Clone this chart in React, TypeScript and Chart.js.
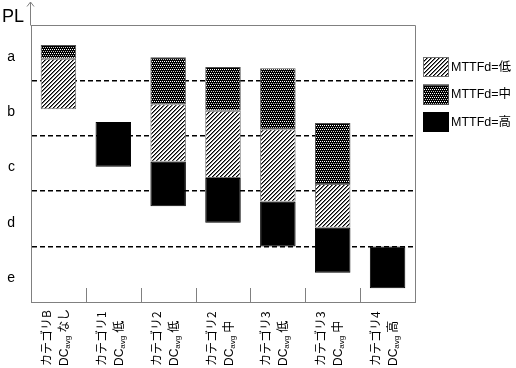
import React, { useEffect, useRef } from 'react';
import { Chart, registerables } from 'chart.js';

Chart.register(...registerables);

// ---- data ----
const categoryNames = ['カテゴリB', 'カテゴリ1', 'カテゴリ2', 'カテゴリ2', 'カテゴリ3', 'カテゴリ3', 'カテゴリ4'];
const dcLevels = ['なし', '低', '低', '中', '低', '中', '高'];
const plLevels = ['e', 'd', 'c', 'b', 'a'];
const seriesLabels = ['MTTFd=低', 'MTTFd=中', 'MTTFd=高'];
const mttfdLow = [[3.48, 4.39], null, [2.53, 3.57], [2.24, 3.45], [1.81, 3.12], [1.34, 2.13], null];
const mttfdMid = [[4.39, 4.64], null, [3.57, 4.42], [3.45, 4.24], [3.12, 4.22], [2.13, 3.23], null];
const mttfdHigh = [null, [2.44, 3.25], [1.73, 2.53], [1.43, 2.24], [1.0, 1.81], [0.53, 1.34], [0.25, 1.0]];

const FRAME = '#808080';
const FONT_FAMILY = '"Liberation Sans", Arial, "Noto Sans CJK JP", sans-serif';
const CJK_FAMILY = '"Noto Sans CJK JP", "Liberation Sans", sans-serif';

function makeHatch(): CanvasPattern {
  const c = document.createElement('canvas');
  c.width = 4; c.height = 4;
  const g = c.getContext('2d')!;
  const img = g.createImageData(4, 4);
  for (let y = 0; y < 4; y++) {
    for (let x = 0; x < 4; x++) {
      const s = (x + y) % 4;
      const v = s === 0 ? 0 : s === 1 ? 120 : 255;
      const i = (y * 4 + x) * 4;
      img.data[i] = v; img.data[i + 1] = v; img.data[i + 2] = v; img.data[i + 3] = 255;
    }
  }
  g.putImageData(img, 0, 0);
  return g.createPattern(c, 'repeat')!;
}

function makeDots(): CanvasPattern {
  const c = document.createElement('canvas');
  c.width = 4; c.height = 4;
  const g = c.getContext('2d')!;
  const img = g.createImageData(4, 4);
  for (let y = 0; y < 4; y++) {
    for (let x = 0; x < 4; x++) {
      let v = 0;
      if (y % 4 === 1 && x % 2 === 0) v = 255;
      if (y % 4 === 3 && x % 2 === 1) v = 200;
      const i = (y * 4 + x) * 4;
      img.data[i] = v; img.data[i + 1] = v; img.data[i + 2] = v; img.data[i + 3] = 255;
    }
  }
  g.putImageData(img, 0, 0);
  return g.createPattern(c, 'repeat')!;
}

const decorPlugin = {
  id: 'decor',
  afterDatasetsDraw(chart: any) {
    const { ctx, chartArea, scales } = chart;
    const { left, right, top, bottom } = chartArea;
    const xs = scales.x;
    ctx.save();
    // frame top & right
    ctx.strokeStyle = FRAME;
    ctx.lineWidth = 1;
    ctx.beginPath();
    ctx.moveTo(Math.round(left) - 0.5, Math.round(top) + 0.5);
    ctx.lineTo(Math.round(right) + 0.5, Math.round(top) + 0.5);
    ctx.lineTo(Math.round(right) + 0.5, Math.round(bottom) + 0.5);
    ctx.stroke();
    // axis arrow
    const ax = Math.round(left) - 0.5;
    ctx.beginPath();
    ctx.moveTo(ax, top);
    ctx.lineTo(ax, 2);
    ctx.moveTo(ax - 3.5, 6.5);
    ctx.lineTo(ax, 2);
    ctx.lineTo(ax + 3.5, 6.5);
    ctx.stroke();
    // category separators (inside, at bottom)
    ctx.beginPath();
    for (let i = 1; i < categoryNames.length; i++) {
      const bx = Math.round((xs.getPixelForValue(i - 1) + xs.getPixelForValue(i)) / 2) + 0.5;
      ctx.moveTo(bx, bottom - 14);
      ctx.lineTo(bx, bottom);
    }
    ctx.stroke();
    // PL label
    ctx.fillStyle = '#000';
    ctx.font = `18px ${FONT_FAMILY}`;
    ctx.textAlign = 'left';
    ctx.textBaseline = 'alphabetic';
    ctx.fillText('PL', 2, 22);
    // category labels (rotated)
    const startY = bottom + 64;
    for (let i = 0; i < categoryNames.length; i++) {
      const cx = xs.getPixelForValue(i);
      ctx.save();
      ctx.translate(cx - 7.5, startY);
      ctx.rotate(-Math.PI / 2);
      ctx.font = `12px ${CJK_FAMILY}`;
      ctx.fillText(categoryNames[i], 0, 0);
      ctx.restore();
      ctx.save();
      ctx.translate(cx + 9.5, startY);
      ctx.rotate(-Math.PI / 2);
      ctx.font = `12px ${FONT_FAMILY}`;
      let px = 0;
      ctx.fillText('DC', px, 0);
      px += ctx.measureText('DC').width;
      ctx.font = `8px ${FONT_FAMILY}`;
      ctx.fillText('avg', px, 2);
      px += ctx.measureText('avg').width + 3;
      ctx.font = `12px ${CJK_FAMILY}`;
      ctx.fillText(dcLevels[i], px, 0);
      ctx.restore();
    }
    // legend
    const datasets = chart.data.datasets;
    const boxX = right + 8;
    ctx.font = `12.5px ${FONT_FAMILY}`;
    ctx.textBaseline = 'middle';
    for (let i = 0; i < datasets.length; i++) {
      const by = top + 32 + i * 27.5;
      ctx.fillStyle = datasets[i].backgroundColor;
      ctx.fillRect(boxX, by, 26, 20);
      ctx.strokeStyle = datasets[i].borderColor;
      ctx.lineWidth = 1;
      ctx.strokeRect(Math.round(boxX) + 0.5, Math.round(by) + 0.5, 25, 19);
      ctx.fillStyle = '#000';
      ctx.fillText(datasets[i].label, boxX + 28, by + 10.5);
    }
    ctx.restore();
  },
};

export default function App() {
  const ref = useRef<HTMLCanvasElement>(null);
  useEffect(() => {
    const canvas = ref.current!;
    const hatch = makeHatch();
    const dots = makeDots();
    const common = {
      grouped: false,
      barPercentage: 0.647,
      categoryPercentage: 1,
      borderWidth: 1,
      borderSkipped: false,
    };
    const chart = new Chart(canvas, {
      type: 'bar',
      data: {
        labels: categoryNames,
        datasets: [
          { ...common, label: seriesLabels[0], data: mttfdLow as any, backgroundColor: hatch as any, borderColor: '#707070' },
          { ...common, label: seriesLabels[1], data: mttfdMid as any, backgroundColor: dots as any, borderColor: '#505050' },
          { ...common, label: seriesLabels[2], data: mttfdHigh as any, backgroundColor: '#000', borderColor: '#000' },
        ],
      },
      options: {
        responsive: false,
        animation: false,
        events: [],
        layout: { padding: { top: 25, right: 101, left: 0, bottom: 0 } },
        plugins: { legend: { display: false }, tooltip: { enabled: false } },
        scales: {
          x: {
            grid: { display: false },
            ticks: { display: false },
            border: { color: FRAME, width: 1 },
            afterFit: (s: any) => { s.height = 66; },
          },
          y: {
            min: 0,
            max: 5,
            afterBuildTicks: (s: any) => {
              const t = [];
              for (let i = 0; i <= 10; i++) t.push({ value: i * 0.5 });
              s.ticks = t;
            },
            afterFit: (s: any) => { s.width = 31; },
            ticks: {
              padding: 16,
              labelOffset: 4,
              color: '#000',
              font: { size: 14, family: FONT_FAMILY },
              callback: (v: any) => {
                const n = Number(v);
                if (Math.abs(n % 1 - 0.5) < 1e-6) return plLevels[Math.floor(n)];
                return '';
              },
            },
            grid: {
              drawTicks: false,
              lineWidth: 1.5,
              color: (c: any) => {
                const v = c.tick ? c.tick.value : 0;
                return Number.isInteger(v) && v > 0 && v < 5 ? '#000' : 'rgba(0,0,0,0)';
              },
            },
            border: { color: FRAME, width: 1, dash: [5, 3] },
          },
        },
      },
      plugins: [decorPlugin],
    });
    return () => chart.destroy();
  }, []);
  return (
    <div style={{ position: 'fixed', left: 0, top: 0, width: 516, height: 368, background: '#fff' }}>
      <canvas ref={ref} width={516} height={368} style={{ display: 'block' }} />
    </div>
  );
}
